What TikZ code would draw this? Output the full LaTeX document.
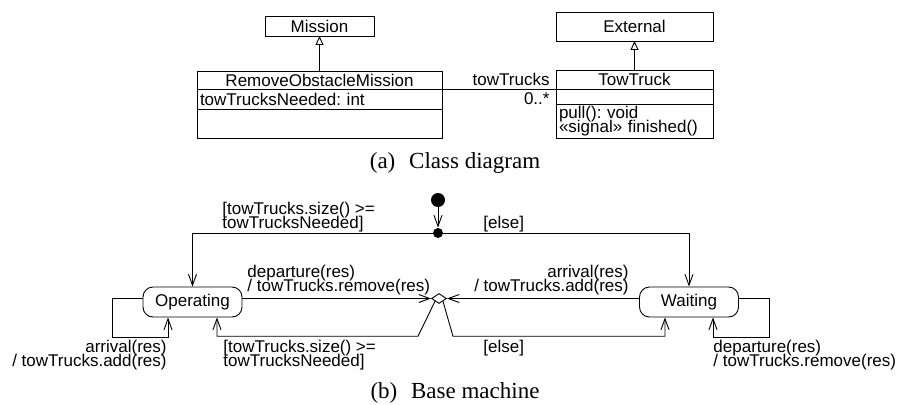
\documentclass[tikz,border=0pt]{standalone}
\usepackage{fontspec}
\setmainfont{Liberation Sans}
\newfontfamily\capfont{Liberation Serif}
\usetikzlibrary{positioning,shapes.geometric,arrows.meta}
\newcommand{\umlfont}{\fontsize{17}{14}\selectfont\frenchspacing\lineskiplimit=-20pt\relax}

\begin{document}
\begin{tikzpicture}[x=1pt, y=1pt, font=\umlfont, line width=0.9pt,
  cls/.style={rectangle, draw=black, inner sep=0pt, outer sep=0pt},
  statebox/.style={rectangle, rounded corners=10pt, draw=black, minimum width=99pt, minimum height=30pt, inner sep=0pt},
  startdot/.style={circle, fill=black, inner sep=0pt, minimum size=14pt},
  juncdot/.style={circle, fill=black, inner sep=0pt, minimum size=10pt},
  choicebox/.style={diamond, draw=black, fill=white, inner sep=0pt, minimum width=15pt, minimum height=10pt},
  lbl/.style={inner sep=0pt},
  capt/.style={font=\capfont\fontsize{23}{23}\selectfont},
  gen/.style={-{Triangle[open, length=9pt, width=8pt]}},
  trans/.style={-{Straight Barb[length=11pt, width=8pt]}}]
\useasboundingbox (0,0) rectangle (901,-404);

% Диаграмма классов
\node (mission) [cls, minimum width=109pt, minimum height=20pt] at (319.5,-26) {Mission};
\node (rom) [cls, minimum width=245pt, minimum height=18pt] at (319.5,-80) {RemoveObstacleMission};
\node (romattr) [cls, below=0pt of rom, minimum height=20pt, text width=239pt, inner xsep=3pt, align=left] {towTrucksNeeded: int};
\node (romops) [cls, below=0pt of romattr, minimum width=245pt, minimum height=29pt] {};

\node (external) [cls, minimum width=157pt, minimum height=29pt] at (634.5,-26.5) {External};
\node (tow) [cls, minimum width=157pt, minimum height=19pt] at (634.5,-79.5) {TowTruck};
\node (towattr) [cls, below=0pt of tow, minimum width=157pt, minimum height=15pt] {};
\node (towops) [cls, below=0pt of towattr, minimum height=34pt, text width=151pt, inner xsep=3pt, align=left] {pull(): void\\«signal» finished()};

\draw[gen] (rom) -- (mission);
\draw[gen] (tow) -- (external);
\draw (rom.south east) -- (tow.south west)
  node (role) [lbl, pos=1, anchor=base east, xshift=-6pt, yshift=4pt] {towTrucks}
  node (mult) [lbl, pos=1, anchor=north east, xshift=-6pt, yshift=-3pt] {0..*};

\node (capa) [capt] at (455,-163) {(a)\hspace{0.6em}Class diagram};

% Машина состояний
\node (init) [startdot] at (438,-200) {};
\node (junc) [juncdot] at (438,-233) {};
\node (oper) [statebox] at (192.5,-302) {Operating};
\node (wait) [statebox] at (689,-302) {Waiting};
\node (choice) [choicebox] at (439,-298.5) {};

\draw[trans] (init) -- (junc);
\draw[trans] (junc) -| (oper);
\draw[trans] (junc) -| (wait);
\draw[trans] (oper.east |- choice) -- (choice.west);
\draw[trans] (wait.west |- choice) -- (choice.east);
\draw[trans] (choice.south west) -- ++(-17,-35) -| ([xshift=24.5pt]oper.south);
\draw[trans] (choice.south east) -- ++(10,-35) -| ([xshift=-24pt]wait.south);
\draw[trans] ([yshift=4pt]oper.west) -| ++(-30,-39) -| ([xshift=-24.5pt]oper.south);
\draw[trans] ([yshift=4pt]wait.east) -| ++(30,-39) -| ([xshift=24pt]wait.south);

% Подписи переходов
\node (guard1) [lbl, anchor=south west, align=left] at (222,-232) {[towTrucks.size() >=\\towTrucksNeeded]};
\node (else1) [lbl, anchor=south west] at (483,-232) {[else]};
\node (dep1) [lbl, anchor=south west, align=left] at (247,-295) {departure(res)\\/ towTrucks.remove(res)};
\node (arr1) [lbl, anchor=south east, align=right] at (629,-295) {arrival(res)\\/ towTrucks.add(res)};
\node (arr2) [lbl, anchor=north east, align=right] at (167,-340) {arrival(res)\\/ towTrucks.add(res)};
\node (guard2) [lbl, anchor=north west, align=left] at (223,-340) {[towTrucks.size() >=\\towTrucksNeeded]};
\node (else2) [lbl, anchor=north west] at (483,-340) {[else]};
\node (dep2) [lbl, anchor=north west, align=left] at (713,-340) {departure(res)\\/ towTrucks.remove(res)};

\node (capb) [capt] at (455,-393) {(b)\hspace{0.6em}Base machine};

\end{tikzpicture}
\end{document}
